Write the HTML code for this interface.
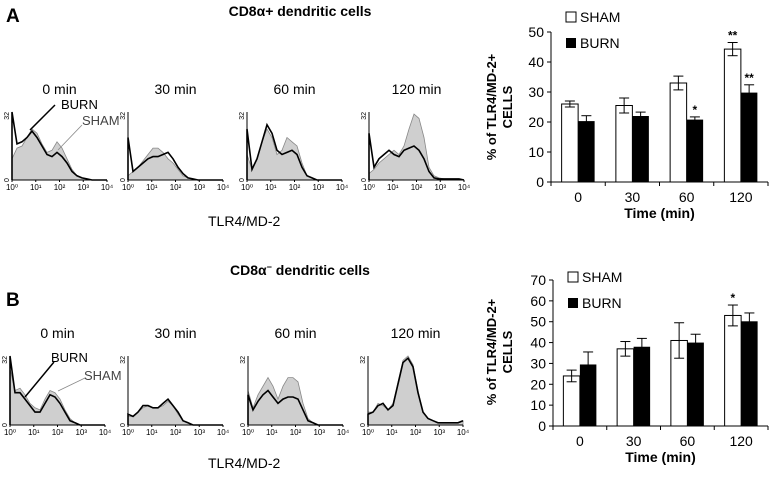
<!DOCTYPE html>
<html><head><meta charset="utf-8"><style>
body{margin:0;background:#fff;width:769px;height:478px;overflow:hidden;font-family:"Liberation Sans",sans-serif}
</style></head><body>
<svg id="fig" width="769" height="478" xmlns="http://www.w3.org/2000/svg" font-family="Liberation Sans, sans-serif">
<text x="6" y="22" font-size="19" font-weight="bold">A</text>
<text x="300" y="16" font-size="14" font-weight="bold" text-anchor="middle">CD8α+ dendritic cells</text>
<text x="6" y="306" font-size="19" font-weight="bold">B</text>
<text x="300" y="275" font-size="14" font-weight="bold" text-anchor="middle">CD8α<tspan font-size="9" dy="-5">−</tspan><tspan dy="5"> dendritic cells</tspan></text>
<text x="208" y="226" font-size="14">TLR4/MD-2</text>
<text x="208" y="468" font-size="14">TLR4/MD-2</text>
<g id="hists"></g>
<g id="bars"></g>
</svg>
<script>
const times=["0 min","30 min","60 min","120 min"];
const topSham=[[10,15,16,20,24,22,17,13,14,18,15,10,5,2,1,0.5,0,0,0,0],[2,4,6,9,12,15,15,13,10,8,5,2,1,0.5,0,0,0,0,0,0],[12,5,10,18,24,20,12,14,20,18,16,8,2,1,0,0,0,0,0,0],[3,5,8,10,12,14,12,16,24,31,29,20,6,2,1,0.5,0.5,0.5,0.5,0]];
const topBurn=[[32,17,18,20,23,20,16,12,11,13,11,8,4,2,1,0.5,0,0,0,0],[20,4,6,8,10,11,11,12,13,10,6,3,1,0.5,0,0,0,0,0,0],[24,5,10,18,26,22,14,12,13,14,12,6,2,1,0,0,0,0,0,0],[22,6,10,12,14,12,11,14,15,16,14,10,4,1,0.5,0.5,0.5,0.5,0.5,0]];
const botSham=[[26,16,17,14,10,8,7,12,16,15,12,7,3,1,0,0,0,0,0,0],[4,4,6,8,9,8,8,9,11,9,5,2,1,0,0,0,0,0,0,0],[16,8,14,18,22,18,12,18,22,22,20,10,3,1,0,0,0,0,0,0],[6,6,10,9,7,10,20,30,32,28,16,6,3,2,1,1,1,1,1,2]];
const botBurn=[[32,15,15,12,9,6,6,10,14,13,10,6,2,1,0,0,0,0,0,0],[5,4,6,9,9,8,8,10,12,9,6,2,1,0,0,0,0,0,0,0],[14,7,11,14,16,13,10,12,13,13,12,7,2,1,0,0,0,0,0,0],[5,6,9,10,7,9,19,29,31,27,15,6,3,2,1,1,1,1,1,2]];
const decadeLabels=["10⁰","10¹","10²","10³","10⁴"];
const catsTime=["0","30","60","120"];
const aSham=[26,25.5,33,44.3], aShamErr=[1,2.5,2.3,2.2];
const aBurn=[20.3,22,20.8,29.8], aBurnErr=[1.8,1.3,0.9,2.6];
const aTicks=[0,10,20,30,40,50];
const bSham=[24,37,41,53], bShamErr=[2.8,3.5,8.5,5];
const bBurn=[29.5,38,40,50.2], bBurnErr=[6,4,4,4];
const bTicks=[0,10,20,30,40,50,60,70];
const NS="http://www.w3.org/2000/svg";
function mk(tag,attrs,parent,txt){const e=document.createElementNS(NS,tag);for(const k in attrs)e.setAttribute(k,attrs[k]);if(txt!==undefined)e.textContent=txt;parent.appendChild(e);return e;}
const H=document.getElementById('hists');
function hist(x0,base,sham,burn,title,w,hgt,labels){
  const g=mk('g',{},H);
  
  
  const xs=i=>x0+i*w/(sham.length-1), ys=v=>base-v/32*hgt;
  let d='M'+x0+','+base;
  sham.forEach((v,i)=>{d+=' L'+xs(i).toFixed(1)+','+ys(v).toFixed(1);});
  d+=' L'+(x0+w)+','+base+' Z';
  const s=mk('path',{d:d,fill:'#cfcfcf',stroke:'#888','stroke-width':0.8},g);
  
  
  let d2='M'+x0+','+base;
  burn.forEach((v,i)=>{d2+=' L'+xs(i).toFixed(1)+','+ys(v).toFixed(1);});
  const b=mk('path',{d:d2,fill:'none',stroke:'#000','stroke-width':1.6},g);
  
  
  mk('line',{x1:x0,y1:base,x2:x0,y2:base-hgt,stroke:'#000','stroke-width':1},g);
  mk('line',{x1:x0,y1:base,x2:x0+w,y2:base,stroke:'#000','stroke-width':1},g);
  mk('text',{x:x0-3,y:base-hgt,'font-size':7,transform:`rotate(-90 ${x0-3} ${base-hgt})`,'text-anchor':'end'},g,'32');
  mk('text',{x:x0-3,y:base,'font-size':7,transform:`rotate(-90 ${x0-3} ${base})`,'text-anchor':'middle'},g,'0');
  labels.forEach((l,i)=>{const tx=x0+i*w/4;mk('line',{x1:tx,y1:base,x2:tx,y2:base+2,stroke:'#000'},g);mk('text',{x:tx,y:base+10,'font-size':8,'text-anchor':'middle'},g,l);});
  const t=mk('text',{x:x0+w/2,y:base-hgt-18,'font-size':14,'text-anchor':'middle'},g,title);
  
  
}
const topX=[12,128,247,369], botX=[10,128,248,368];
times.forEach((t,i)=>hist(topX[i],180,topSham[i],topBurn[i],t,95,68,decadeLabels));
times.forEach((t,i)=>hist(botX[i],425,botSham[i],botBurn[i],t,95,69,decadeLabels));
function ann(x1,y1,x2,y2,tx,ty,label,col,lw){mk('line',{x1,y1,x2,y2,stroke:col,'stroke-width':lw},H);const t=mk('text',{x:tx,y:ty,'font-size':13,fill:col==='#000'?'#000':'#444'},H,label);}
ann(30,130,55,105,61,109,'BURN','#000',1.5);
ann(58,150,82,125,82,125,'SHAM','#888',0.8);
ann(25,397,54,362,51,362,'BURN','#000',1.5);
ann(58,391,85,378,84,380,'SHAM','#888',0.8);
const B=document.getElementById('bars');
function barChart(x0,x1,y0,pxPer,ticks,sham,shamE,burn,burnE,stars,legY,name,ylabelY){
  const g=mk('g',{},B);
  
  
  const top=ticks[ticks.length-1];
  const ys=v=>y0-v*pxPer;
  const gw=(x1-x0)/catsTime.length, bw=16.5;
  mk('line',{x1:x0,y1:y0,x2:x0,y2:ys(top),stroke:'#000'},g);
  mk('line',{x1:x0,y1:y0,x2:x1,y2:y0,stroke:'#000'},g);
  ticks.forEach(t=>{mk('line',{x1:x0-4,y1:ys(t),x2:x0,y2:ys(t),stroke:'#000'},g);mk('text',{x:x0-7,y:ys(t)+5,'font-size':14,'text-anchor':'end'},g,String(t));});
  for(let i=0;i<=catsTime.length;i++){mk('line',{x1:x0+i*gw,y1:y0,x2:x0+i*gw,y2:y0+4,stroke:'#000'},g);}
  catsTime.forEach((c,i)=>{
    const cx=x0+(i+0.5)*gw;
    mk('text',{x:cx,y:y0+20,'font-size':14,'text-anchor':'middle'},g,c);
    const r1=mk('rect',{x:cx-bw,y:ys(sham[i]),width:bw,height:sham[i]*pxPer,fill:'#fff',stroke:'#000','stroke-width':1},g);
    
    
    const r2=mk('rect',{x:cx,y:ys(burn[i]),width:bw,height:burn[i]*pxPer,fill:'#000'},g);
    
    
    [[cx-bw/2,sham[i],shamE[i]],[cx+bw/2,burn[i],burnE[i]]].forEach(([ex,v,e])=>{
      mk('line',{x1:ex,y1:ys(v-e),x2:ex,y2:ys(v+e),stroke:'#000','stroke-width':1},g);
      mk('line',{x1:ex-5,y1:ys(v+e),x2:ex+5,y2:ys(v+e),stroke:'#000','stroke-width':1},g);
      mk('line',{x1:ex-5,y1:ys(v-e),x2:ex+5,y2:ys(v-e),stroke:'#000','stroke-width':1},g);
    });
    if(stars[0][i])mk('text',{x:cx-bw/2,y:ys(sham[i]+shamE[i])-3,'font-size':12,'font-weight':'bold','text-anchor':'middle'},g,stars[0][i]);
    if(stars[1][i])mk('text',{x:cx+bw/2,y:ys(burn[i]+burnE[i])-3,'font-size':12,'font-weight':'bold','text-anchor':'middle'},g,stars[1][i]);
  });
  const lx=x0+15;
  mk('rect',{x:lx,y:legY-10,width:10,height:10,fill:'#fff',stroke:'#000'},g);
  mk('text',{x:lx+14,y:legY,'font-size':14},g,'SHAM');
  mk('rect',{x:lx,y:legY+16,width:10,height:10,fill:'#000'},g);
  mk('text',{x:lx+14,y:legY+26,'font-size':14},g,'BURN');
  const yl=mk('text',{x:0,y:0,'font-size':13,'font-weight':'bold','text-anchor':'middle',transform:`translate(496 ${ylabelY}) rotate(-90)`},g,'% of TLR4/MD-2+');
  
  
  mk('text',{x:0,y:0,'font-size':13,'font-weight':'bold','text-anchor':'middle',transform:`translate(512 ${ylabelY}) rotate(-90)`},g,'CELLS');
  const xt=mk('text',{x:(x0+x1)/2,y:y0+36,'font-size':14,'font-weight':'bold','text-anchor':'middle'},g,'Time (min)');
  
  
}
barChart(551,768,182,3,aTicks,aSham,aShamErr,aBurn,aBurnErr,[["","","","**"],["","","*","**"]],22,'bar-chart-a',107);
barChart(553,768,426,146/70,bTicks,bSham,bShamErr,bBurn,bBurnErr,[["","","","*"],["","","",""]],282,'bar-chart-b',352);
</script>
</body></html>
